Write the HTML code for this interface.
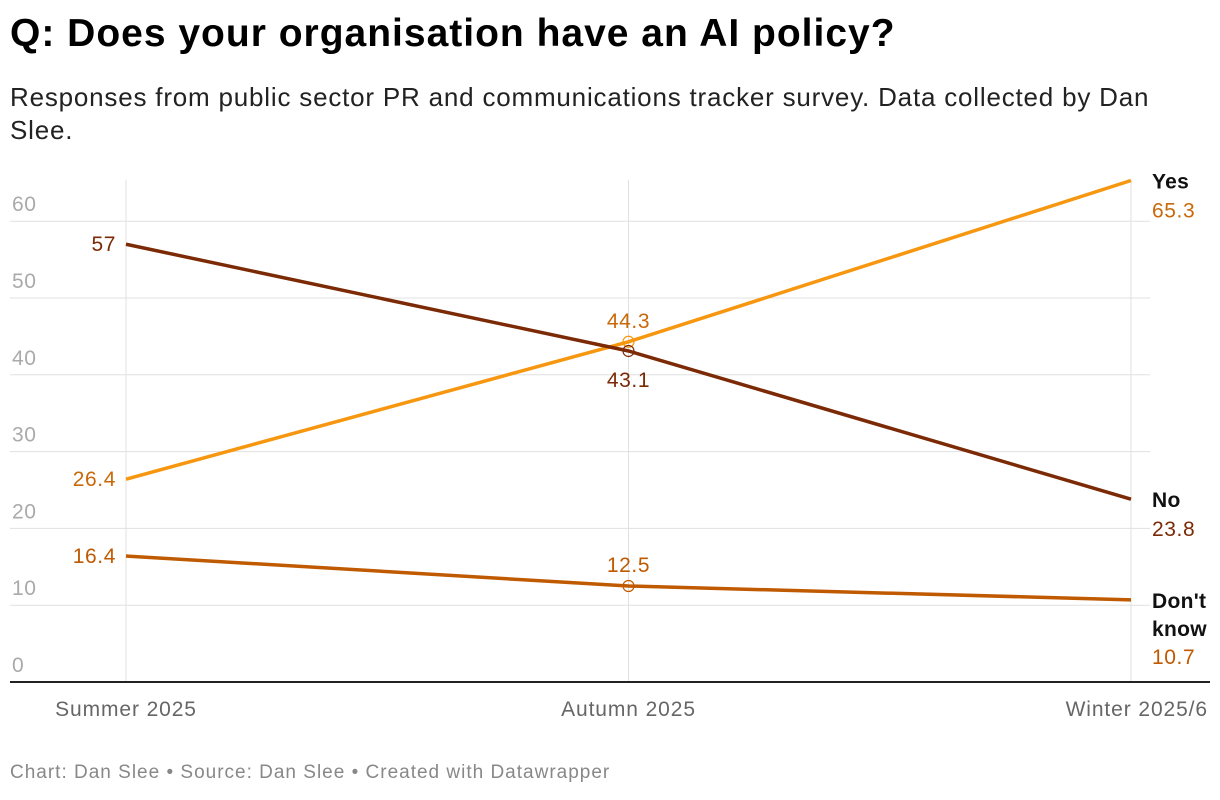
<!DOCTYPE html>
<html><head><meta charset="utf-8"><style>
body{margin:0;background:#fff;font-family:"Liberation Sans",sans-serif;}
#wrap{position:relative;width:1220px;height:800px;overflow:hidden}
h1{position:absolute;left:10px;top:12px;margin:0;font-size:39px;font-weight:bold;color:#000;letter-spacing:1px}
.sub{position:absolute;left:10px;top:81px;width:1175px;font-size:26px;line-height:33px;color:#222;letter-spacing:0.8px}
.foot{position:absolute;left:10px;top:762px;font-size:19px;color:#888;letter-spacing:1px}
svg{position:absolute;left:0;top:0}
</style></head><body>
<div id="wrap">
<h1>Q: Does your organisation have an AI policy?</h1>
<div class="sub">Responses from public sector PR and communications tracker survey. Data collected by Dan Slee.</div>
<svg id="chart" width="1220" height="800"></svg>
<div class="foot">Chart: Dan Slee • Source: Dan Slee • Created with Datawrapper</div>
</div>
<script>
const categories = ["Summer 2025","Autumn 2025","Winter 2025/6"];
const yesValues = [26.4,44.3,65.3];
const noValues = [57,43.1,23.8];
const dkValues = [16.4,12.5,10.7];
const yTicks = [0,10,20,30,40,50,60];

const svg = document.getElementById('chart');
const NS = 'http://www.w3.org/2000/svg';
const xPos = [126,628,1131];
function x(i){return xPos[0]+(xPos[2]-xPos[0])*i/(categories.length-1);}
function y(v){return 682 - v*7.68;}
function el(tag, attrs, parent){const e=document.createElementNS(NS,tag);for(const k in attrs)e.setAttribute(k,attrs[k]);(parent||svg).appendChild(e);return e;}
function txt(s, attrs){const t=el('text',Object.assign({'font-family':'Liberation Sans, sans-serif','letter-spacing':'0.6'},attrs));t.textContent=s;return t;}

yTicks.forEach(v=>{
  if(v>0){const g=el('line',{x1:10,x2:1150,y1:y(v),y2:y(v),stroke:'#e0e0e0','stroke-width':1});
  
  }
  const t=txt(String(v),{x:12,y:y(v)-10,'font-size':21,fill:'#aaa'});
  
  
});
categories.forEach((c,i)=>{
  const g=el('line',{x1:x(i),x2:x(i),y1:180,y2:682,stroke:'#e0e0e0','stroke-width':1});
  
  
  const anchor = i===categories.length-1?'end':'middle';
  const t=txt(c,{x:i===categories.length-1?1208:x(i),y:716,'font-size':21,fill:'#666','text-anchor':anchor,'letter-spacing':'0.9'});
  
  
});
const base=el('line',{x1:10,x2:1210,y1:682,y2:682,stroke:'#222','stroke-width':2});



const series=[
 {name:'Yes',vals:yesValues,color:'#f7960f',label:'#c8690a',dn:'yes'},
 {name:'No',vals:noValues,color:'#7b2a05',label:'#7b2a05',dn:'no'},
 {name:"Don't know",vals:dkValues,color:'#c05a00',label:'#c05a00',dn:'dont-know'}
];
series.forEach(s=>{
  const p=el('polyline',{points:s.vals.map((v,i)=>x(i)+','+y(v)).join(' '),fill:'none',stroke:s.color,'stroke-width':3.5});
  
  
  const c=el('circle',{cx:x(1),cy:y(s.vals[1]),r:5.5,fill:'none',stroke:s.color,'stroke-width':1.2});
  
  
});
series.forEach(s=>{
  const t=txt(String(s.vals[0]),{x:x(0)-10,y:y(s.vals[0])+7,'font-size':21,fill:s.label,'text-anchor':'end'});
  
  
});
const midOffsets=[-14,36,-14];
series.forEach((s,k)=>{
  const t=txt(String(s.vals[1]),{x:x(1),y:y(s.vals[1])+midOffsets[k],'font-size':21,fill:s.label,'text-anchor':'middle'});
  
  
});
series.forEach(s=>{
  const yy=y(s.vals[2]);
  let nm;
  if(s.name==="Don't know"){
    nm=txt("Don't",{x:1152,y:yy+8,'font-size':21,'font-weight':'bold',fill:'#111','letter-spacing':'0.3'});
    const n2=txt("know",{x:1152,y:yy+36,'font-size':21,'font-weight':'bold',fill:'#111','letter-spacing':'0.3'});
    
    
    const v=txt(String(s.vals[2]),{x:1152,y:yy+64,'font-size':21,fill:s.label});
    
    
  } else {
    nm=txt(s.name,{x:1152,y:yy+8,'font-size':21,'font-weight':'bold',fill:'#111','letter-spacing':'0.3'});
    const v=txt(String(s.vals[2]),{x:1152,y:yy+37,'font-size':21,fill:s.label});
    
    
  }
  
  
});
</script>
</body></html>
